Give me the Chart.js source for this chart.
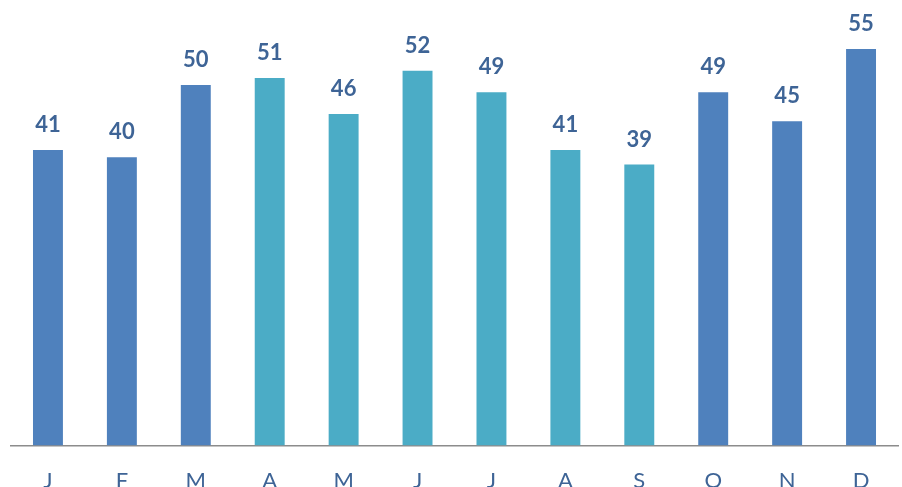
<!DOCTYPE html>
<html lang="en">
<head>
    <meta charset="UTF-8">
    <title>Monthly bars</title>
    <script src="https://cdn.jsdelivr.net/npm/chart.js"></script>
    <style>
        html, body { margin: 0; padding: 0; background: #fff; overflow: hidden; }
        #wrap { width: 902px; height: 516px; }
    </style>
</head>
<body>
    <div id="wrap">
        <canvas id="myChart" width="902" height="516"></canvas>
    </div>

<script>
    var meses = ["J", "F", "M", "A", "M", "J", "J", "A", "S", "O", "N", "D"]
    var valores = [41, 40, 50, 51, 46, 52, 49, 41, 39, 49, 45, 55]
    var azul = "#4F81BD"
    var turquesa = "#4BACC6"
    var cores = [azul, azul, azul, turquesa, turquesa, turquesa, turquesa, turquesa, turquesa, azul, azul, azul]

    // rotulos em cima das barras
    var rotulos = {
        id: "rotulos",
        afterDatasetsDraw(chart) {
            var ctx = chart.ctx
            var meta = chart.getDatasetMeta(0)
            ctx.save()
            ctx.font = "bold 22px Lato, 'Open Sans', sans-serif"
            ctx.fillStyle = "#3E6496"
            ctx.textAlign = "center"
            ctx.textBaseline = "bottom"
            meta.data.forEach(function (bar, i) {
                ctx.fillText(valores[i], bar.x, bar.y - 14)
            })
            ctx.restore()
        }
    }

    new Chart(document.getElementById("myChart"), {
        type: "bar",
        data: {
            labels: meses,
            datasets: [{
                data: valores,
                backgroundColor: cores,
                categoryPercentage: 1,
                barPercentage: 0.405
            }]
        },
        options: {
            responsive: false,
            animation: false,
            layout: { padding: { top: 13, left: 11, right: 4, bottom: 0 } },
            plugins: { legend: { display: false }, tooltip: { enabled: false } },
            scales: {
                x: {
                    grid: { display: false, drawTicks: false },
                    border: { color: "#8C8C8C", width: 1.5 },
                    ticks: {
                        padding: 22,
                        color: "#3E6496",
                        font: { size: 22, family: "Lato, 'Open Sans', sans-serif" }
                    }
                },
                y: {
                    display: false,
                    min: 0,
                    max: 60
                }
            }
        },
        plugins: [rotulos]
    })
</script>
</body>
</html>
